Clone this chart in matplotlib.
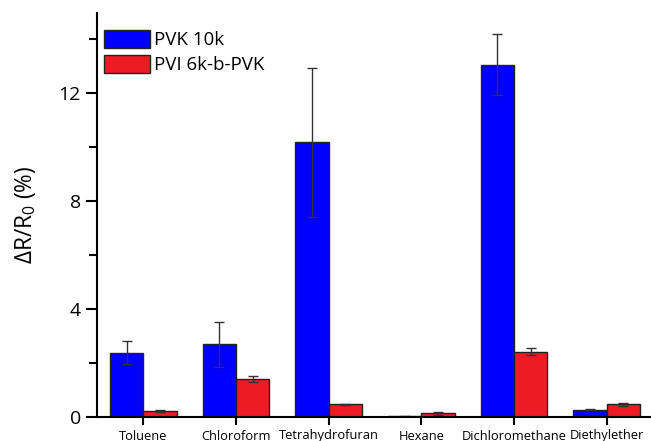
import matplotlib
matplotlib.use("Agg")
import matplotlib.pyplot as plt
import numpy as np

plt.rcParams['font.family'] = ['Open Sans', 'DejaVu Sans']
plt.rcParams['mathtext.default'] = 'regular'

categories = ["Toluene", "Chloroform", "Tetrahydrofuran", "Hexane", "Dichloromethane", "Diethylether"]
pvk_vals = [2.38, 2.69, 10.16, 0.03, 13.04, 0.27]
pvk_err = [0.43, 0.83, 2.75, 0.02, 1.13, 0.02]
pvi_vals = [0.23, 1.40, 0.47, 0.14, 2.42, 0.47]
pvi_err = [0.04, 0.10, 0.02, 0.06, 0.13, 0.06]
series_labels = ["PVK 10k", "PVI 6k-b-PVK"]
yticks = [0, 4, 8, 12]

fig = plt.figure(figsize=(6.51, 4.41), dpi=100)
ax = fig.add_axes([97/651, 24/441, 556/651, 404/441])

x = np.arange(1, len(categories) + 1)
w = 0.36
ekw = dict(ecolor='#333333', elinewidth=1.0, capthick=1.0)
ax.bar(x - w/2, pvk_vals, w, yerr=pvk_err, color='#0000FF', edgecolor='#222222',
       linewidth=1.0, capsize=3.5, error_kw=ekw, label=series_labels[0], zorder=2)
ax.bar(x + w/2, pvi_vals, w, yerr=pvi_err, color='#ED1C24', edgecolor='#222222',
       linewidth=1.0, capsize=3.5, error_kw=ekw, label=series_labels[1], zorder=2)

ax.set_xlim(0.5, 6.5)
ax.set_ylim(0, 14.95)
ax.set_xticks(x)
ax.set_xticklabels(categories, fontsize=9.3)
ax.set_yticks(yticks)
ax.set_yticks([2, 6, 10, 14], minor=True)
ax.tick_params(axis='y', which='major', labelsize=14, length=8, width=1.5, direction='out')
ax.tick_params(axis='y', which='minor', length=6, width=1.5, direction='out')
ax.tick_params(axis='x', which='major', length=6, width=1.5, direction='out', pad=3)

for s in ['top', 'right']:
    ax.spines[s].set_visible(False)
for s in ['left', 'bottom']:
    ax.spines[s].set_linewidth(1.5)

ax.set_ylabel(r'ΔR/R$_0$ (%)', fontsize=16.3, labelpad=15)

leg = ax.legend(loc='upper left', bbox_to_anchor=(0.0126, 0.958), frameon=False,
                fontsize=13.5, handlelength=2.45, handleheight=1.1,
                handletextpad=0.2, labelspacing=0.3, borderpad=0, borderaxespad=0)

fig.savefig("out.png", dpi=100)
